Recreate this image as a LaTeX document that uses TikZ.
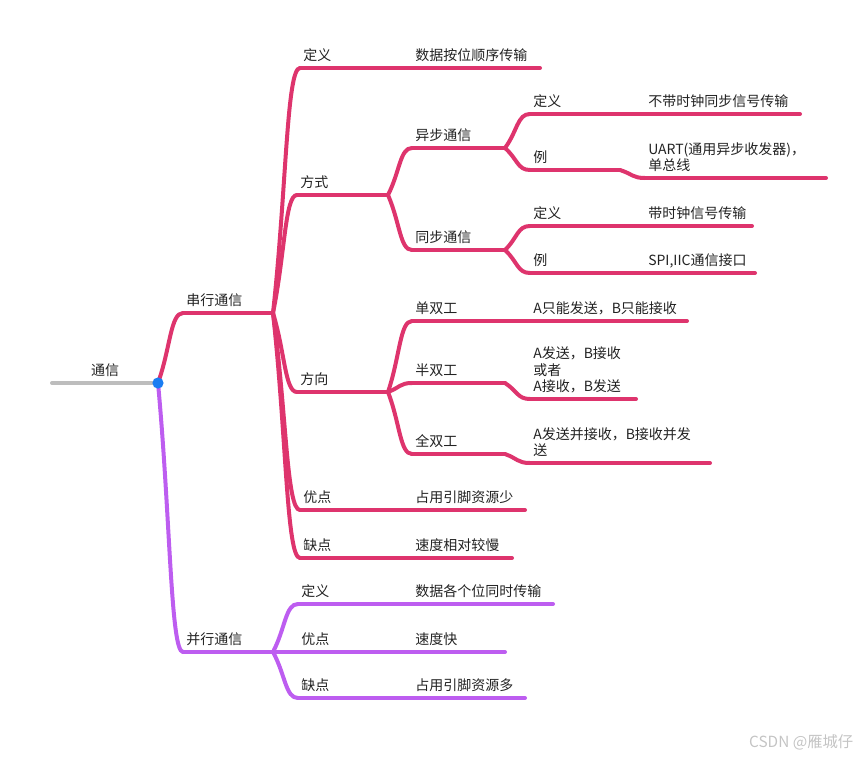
\documentclass[tikz,border=0pt]{standalone}
\usepackage{fontspec}
\setmainfont{Noto Sans CJK SC}
\usetikzlibrary{calc}
\definecolor{serialRed}{HTML}{DE346D}
\definecolor{parallelPurple}{HTML}{BD5DF0}
\definecolor{rootGrey}{HTML}{BDBDBD}
\definecolor{dotBlue}{HTML}{1A7DF2}
\definecolor{markGrey}{HTML}{C4C4C4}
\definecolor{textDark}{HTML}{222222}
\newcommand{\mindTopic}[5]{%%
  %% Underline of the topic, with its two ends named.
  \coordinate (#1L) at (#2,#4);
  \coordinate (#1R) at (#3,#4);
  \draw[lineStyle] (#1L) -- (#1R);
  %% Label the topic above its underline.
  \node[textStyle] (#1) at (#1L) {#5};
}
\newcommand{\mindBranch}[2]{%%
  \draw[lineStyle] (#1R) .. controls ($(#1R)!0.5!(#2L)$) and ($(#1R|-#2L)!0.5!(#2L)$) .. (#2L);
}
\begin{document}
\begin{tikzpicture}[%%
  x=0.75pt,y=-0.75pt,%%
  lineStyle/.style={line width=3pt,line cap=round},%%
  textStyle/.style={anchor=south west,inner xsep=2.25pt,inner ysep=5.3pt,text depth=0pt,
    align=left,text=textDark,font=\fontsize{10.5}{12.3}\selectfont},%%
  dotStyle/.style={fill=dotBlue},%%
  markStyle/.style={anchor=base east,text=markGrey,font=\fontsize{11.5}{13}\selectfont}
]
\useasboundingbox (0,0) rectangle (861,757);
%%
%% Root of the map.
\coordinate (rootL) at (52,383);
\coordinate (rootR) at (158,383);
\draw[lineStyle,rootGrey] (rootL) -- (rootR);
\node[textStyle,anchor=south] (root) at ($(rootL)!0.5!(rootR)$) {通信};
%%
%% Serial branch.
\begin{scope}[serialRed]
\mindTopic{serial}{183}{273}{313}{串行通信}
\mindTopic{sdef}{300}{405}{68}{定义}
\mindTopic{sdefv}{412}{540}{68}{数据按位顺序传输}
\mindTopic{mode}{297}{388}{195}{方式}
\mindTopic{async}{412}{505}{148}{异步通信}
\mindTopic{adef}{530}{640}{114}{定义}
\mindTopic{adefv}{645}{800}{114}{不带时钟同步信号传输}
\mindTopic{aex}{530}{620}{170}{例}
\mindTopic{aexv}{645}{826}{178}{UART(通用异步收发器)，\\单总线}
\mindTopic{sync}{412}{505}{250}{同步通信}
\mindTopic{ydef}{530}{640}{226}{定义}
\mindTopic{ydefv}{645}{752}{226}{带时钟信号传输}
\mindTopic{yex}{530}{640}{273}{例}
\mindTopic{yexv}{645}{755}{273}{SPI,IIC通信接口}
\mindTopic{dir}{297}{388}{392}{方向}
\mindTopic{simp}{412}{520}{321}{单双工}
\mindTopic{simpv}{530}{687}{321}{A只能发送，B只能接收}
\mindTopic{half}{412}{505}{383}{半双工}
\mindTopic{halfv}{530}{636}{399}{A发送，B接收\\或者\\A接收，B发送}
\mindTopic{full}{412}{505}{454}{全双工}
\mindTopic{fullv}{530}{710}{463}{A发送并接收，B接收并发\\送}
\mindTopic{pro}{300}{405}{510}{优点}
\mindTopic{prov}{412}{525}{510}{占用引脚资源少}
\mindTopic{con}{300}{405}{558}{缺点}
\mindTopic{conv}{412}{512}{558}{速度相对较慢}
%% Branches of the serial part.
\mindBranch{root}{serial}
\mindBranch{serial}{sdef}
\mindBranch{sdef}{sdefv}
\mindBranch{serial}{mode}
\mindBranch{mode}{async}
\mindBranch{async}{adef}
\mindBranch{adef}{adefv}
\mindBranch{async}{aex}
\mindBranch{aex}{aexv}
\mindBranch{mode}{sync}
\mindBranch{sync}{ydef}
\mindBranch{ydef}{ydefv}
\mindBranch{sync}{yex}
\mindBranch{yex}{yexv}
\mindBranch{serial}{dir}
\mindBranch{dir}{simp}
\mindBranch{simp}{simpv}
\mindBranch{dir}{half}
\mindBranch{half}{halfv}
\mindBranch{dir}{full}
\mindBranch{full}{fullv}
\mindBranch{serial}{pro}
\mindBranch{pro}{prov}
\mindBranch{serial}{con}
\mindBranch{con}{conv}
\end{scope}
%%
%% Parallel branch.
\begin{scope}[parallelPurple]
\mindTopic{par}{183}{273}{652}{并行通信}
\mindTopic{pdef}{298}{405}{604}{定义}
\mindTopic{pdefv}{412}{553}{604}{数据各个位同时传输}
\mindTopic{ppro}{298}{405}{652}{优点}
\mindTopic{pprov}{412}{505}{652}{速度快}
\mindTopic{pcon}{298}{405}{698}{缺点}
\mindTopic{pconv}{412}{525}{698}{占用引脚资源多}
\mindBranch{root}{par}
\mindBranch{par}{pdef}
\mindBranch{pdef}{pdefv}
\mindBranch{par}{ppro}
\mindBranch{ppro}{pprov}
\mindBranch{par}{pcon}
\mindBranch{pcon}{pconv}
\end{scope}
%%
%% Joint of the two branches.
\fill[dotStyle] (rootR) circle[radius=4.2pt];
\node[markStyle] (mark) at (858,747) {CSDN @雁城仔};
\end{tikzpicture}
\end{document}
